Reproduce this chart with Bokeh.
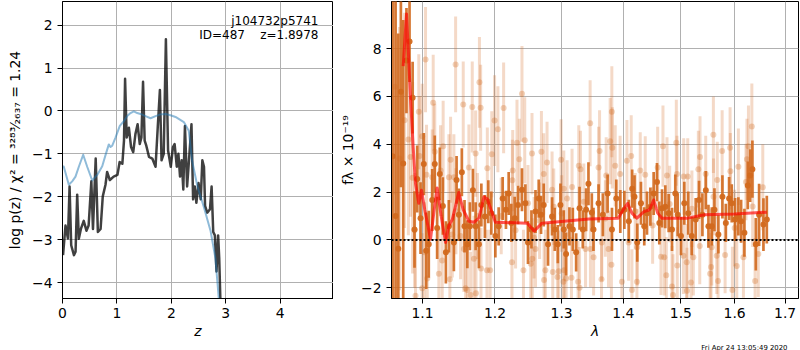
from bokeh.plotting import figure
from bokeh.layouts import row
from bokeh.models import Range1d, FixedTicker, CustomJSTickFormatter, Label, Span, Title
from bokeh.embed import file_html
from bokeh.resources import INLINE

# ---------------- left panel: log p(z) ----------------
z_chi2 = [0.01, 0.024, 0.116, 0.178, 0.239, 0.300, 0.380, 0.454, 0.546, 0.638, 0.730, 0.790,
          0.851, 0.882, 0.914, 0.974, 1.053, 1.127, 1.189, 1.250, 1.311, 1.373, 1.434, 1.526,
          1.618, 1.710, 1.801, 1.893, 1.985, 2.077, 2.23, 2.32, 2.38, 2.48, 2.60, 2.72, 2.81,
          2.87, 2.90]
logp_chi2 = [-1.28, -1.30, -1.72, -1.64, -1.53, -1.30, -1.02, -1.30, -1.62, -1.49, -1.29, -1.03,
             -0.78, -0.84, -0.81, -0.62, -0.35, -0.24, -0.12, -0.05, -0.01, -0.05, -0.07, -0.12,
             -0.17, -0.12, -0.08, -0.07, -0.10, -0.14, -0.26, -0.46, -1.15, -1.76, -2.25, -2.79, -3.43,
             -4.34, -4.90]

z_pz = [0.01, 0.055, 0.10, 0.13, 0.16, 0.21, 0.24, 0.27, 0.30, 0.34, 0.39, 0.44, 0.48, 0.53,
        0.56, 0.61, 0.65, 0.70, 0.74, 0.79, 0.82, 0.87, 0.94, 1.01, 1.05, 1.10, 1.13, 1.15,
        1.18, 1.22, 1.26, 1.30, 1.34, 1.38, 1.42, 1.45, 1.48, 1.51, 1.54, 1.59, 1.65, 1.71,
        1.75, 1.79, 1.82, 1.86, 1.90, 1.94, 1.99, 2.03, 2.06, 2.10, 2.13, 2.16, 2.19, 2.22,
        2.25, 2.29, 2.32, 2.37, 2.40, 2.43, 2.46, 2.50, 2.54, 2.57, 2.60, 2.62, 2.66, 2.71,
        2.74, 2.77, 2.80, 2.83, 2.86, 2.88, 2.90, 2.92]
logp_pz = [-3.36, -2.67, -2.97, -1.76, -3.13, -3.36, -3.28, -1.95, -2.98, -2.74, -2.56, -2.79,
           -2.67, -1.64, -2.75, -1.11, -2.82, -2.75, -1.99, -1.72, -1.42, -1.61, -1.53, -1.49,
           -1.19, -1.23, -0.69, 0.75, -0.62, -0.39, -0.84, -0.96, -0.54, -0.31, -0.77, -0.62,
           0.68, -0.69, -0.81, -1.07, -1.11, -1.30, -0.39, 0.49, -1.15, -1.00, 1.67, -0.92,
           -1.30, -0.84, -0.77, -1.30, -1.00, -1.53, -1.15, -1.83, -0.35, -1.76, -1.23, -0.31,
           -2.06, -1.76, -2.14, -1.68, -2.06, -1.15, -1.30, -2.21, -2.37, -2.29, -1.76, -2.82,
           -2.90, -3.74, -2.90, -3.43, -4.34, -4.90]

z_ticks = [0, 1, 2, 3, 4]
logp_ticks = [-4, -3, -2, -1, 0, 1, 2]

# ---------------- right panel: spectrum ----------------
lam_model = [1.0748, 1.0791, 1.0843, 1.0878, 1.0908, 1.0951, 1.0987, 1.1030, 1.1106, 1.1150,
             1.1195, 1.1250, 1.1309, 1.1350, 1.1400, 1.1489, 1.1551, 1.1630, 1.1700, 1.1771,
             1.1842, 1.1890, 1.2005, 1.2476, 1.2576, 1.2697, 1.3431, 1.3913, 1.3980, 1.4071,
             1.4144, 1.4229, 1.4355, 1.4447, 1.4518, 1.4588, 1.4664, 1.5124, 1.5429, 1.5996,
             1.6630]
flux_model = [7.27, 9.45, 5.90, 3.85, 2.35, 1.53, 2.08, 1.26, 0.03, 1.12,
              2.17, 0.98, -0.11, 0.57, 0.85, 1.98, 1.26, 0.78, 0.74, 0.91,
              1.80, 1.71, 0.74, 0.70, 0.37, 0.70, 0.87, 0.91, 1.19, 1.53,
              1.12, 0.91, 1.19, 1.26, 1.67, 1.12, 0.91, 0.91, 1.05, 1.08,
              1.16]

lam_a = [1.0612, 1.0650, 1.0685, 1.0718, 1.0748, 1.0790, 1.0830, 1.0870,
         1.0895, 1.0930, 1.0974, 1.1017, 1.1049, 1.1083, 1.1129, 1.1163, 1.1195, 1.1231,
         1.1272, 1.1313, 1.1354, 1.1422, 1.1459, 1.1491, 1.1532, 1.1569, 1.1608, 1.1644,
         1.1686, 1.1724, 1.1771, 1.1805, 1.1856, 1.1904,
         1.1947, 1.2005, 1.2053, 1.2111, 1.2159, 1.2199, 1.2238, 1.2287, 1.2336, 1.2395,
         1.2446, 1.2485, 1.2537, 1.2598, 1.2647, 1.2682, 1.2723, 1.2789, 1.2851, 1.2893,
         1.2940, 1.2981, 1.3033, 1.3069, 1.3122, 1.3175, 1.3228, 1.3282, 1.3334, 1.3387,
         1.3425, 1.3479, 1.3506, 1.3589, 1.3659, 1.3737, 1.3809, 1.3881, 1.3948, 1.4016,
         1.4091, 1.4148, 1.4188, 1.4235, 1.4298, 1.4355, 1.4402, 1.4461, 1.4518, 1.4576,
         1.4617, 1.4664, 1.4722, 1.4782, 1.4841, 1.4900, 1.4943, 1.5002, 1.5062,
         1.5134, 1.5197, 1.5270, 1.5331, 1.5393, 1.5456, 1.5505, 1.5568, 1.5617, 1.5691,
         1.5767, 1.5832, 1.5894, 1.5945, 1.6009, 1.6072, 1.6125, 1.6189, 1.6255, 1.6300,
         1.6345, 1.6412, 1.6477, 1.6563, 1.6630]
flux_a = [3.5, 1.0, -0.37, 6.2, 3.2, 7.5, 8.3, 5.95,
          0.44, 2.55, 0.91, 3.17, -0.45, -0.18, 1.67, 3.17, 0.50, 2.76,
          1.42, -0.52, 0.57, -0.11, 2.51, 1.05, 2.83, 0.57, -0.18, 0.57,
          2.08, 0.57, -0.18, 1.46, 0.98, 1.60,
          1.12, 0.16, 0.57, 1.73, 1.26, 1.94, 0.71, 0.91, 1.46, 2.10,
          1.53, -0.11, 0.44, 1.19, 1.73, 1.05, 1.46, -0.18, 0.98, 0.44,
          -0.18, 1.46, 0.44, -0.59, 0.57, 0.44, -0.52, 1.32, 0.44, 1.26,
          2.35, 1.15, 0.44, 1.53, 1.05, 1.94, 0.44, 1.73, 1.19, 1.26,
          0.78, 2.14, 1.80, -0.11, 1.53, 0.57, 1.12, 1.39, 1.94, 2.42,
          0.71, 1.32, 1.39, 1.12, 0.44, 1.94, 1.05, 0.16, 1.53,
          1.12, 0.16, 0.85, 1.67, 1.05, 2.08, 0.57, 0.57, 1.26, 0.23,
          1.80, 0.71, 1.73, 1.53, 0.85, 0.98, 0.78, 0.30, 2.28, 2.69,
          2.96, -0.18, 1.05, 0.64, 0.85]
err_a = [9.0, 9.0, 9.0, 4.0, 6.0, 2.2, 1.7, 1.5,
         1.6, 1.4, 1.5, 1.3, 1.6, 1.4, 1.3, 1.2, 1.3, 1.1,
         1.2, 1.3, 1.1, 1.2, 1.0, 1.1, 1.0, 1.1, 1.0, 1.0,
         0.9, 1.0, 1.0, 0.9, 0.9, 0.9,
         0.9, 0.9, 0.8, 0.9, 0.8, 0.9, 0.8, 0.9, 0.8, 0.9,
         0.8, 0.9, 0.8, 0.9, 0.8, 0.8, 0.9, 0.9, 0.8, 0.9,
         0.8, 0.9, 0.8, 0.9, 0.8, 0.9, 0.8, 0.9, 0.8, 0.9,
         0.9, 0.8, 0.9, 0.8, 0.9, 0.8, 0.9, 0.8, 0.9, 0.8,
         0.9, 0.8, 0.9, 0.8, 0.9, 0.8, 0.9, 0.8, 0.9, 0.8,
         0.9, 0.8, 0.9, 0.8, 0.9, 0.8, 0.9, 0.8, 0.9,
         0.9, 0.8, 0.9, 0.8, 0.9, 0.8, 0.9, 0.8, 0.9, 0.8,
         0.9, 0.8, 0.9, 0.8, 0.9, 0.8, 0.9, 1.0, 1.0, 1.1,
         1.2, 1.1, 1.3, 1.1, 1.0]

lam_b = [1.0640, 1.0700, 1.0765, 1.0815, 1.0870,
         1.1040, 1.1446, 1.1142, 1.0951, 1.1778, 1.1551, 1.1677, 1.1795, 1.0996, 1.0962,
         1.0843, 1.1163, 1.1276, 1.1377, 1.1724, 1.1630, 1.1053, 1.1129, 1.1890, 1.1354,
         1.1422, 1.0896, 1.1400, 1.1241, 1.1218, 1.1367, 1.1026, 1.1729, 1.1608, 1.1800,
         1.1885, 1.1263, 1.0996, 1.1514, 1.1560,
         1.0908, 1.1063, 1.1584, 1.1654, 1.1700, 1.2253, 1.2417, 1.2526, 1.2728, 1.2934,
         1.3038, 1.2576,
         1.2125, 1.2395, 1.1994, 1.2042, 1.2436, 1.2321, 1.1954, 1.2545, 1.2688, 1.2356,
         1.2774, 1.2991, 1.2258, 1.2723, 1.3270, 1.3297, 1.2851, 1.3033, 1.3163, 1.3085,
         1.2877, 1.2485, 1.1930, 1.2247, 1.2550, 1.2748, 1.2862, 1.2955, 1.3069, 1.3154,
         1.3259, 1.3282, 1.3028, 1.3378, 1.2598,
         1.3452, 1.3807, 1.3779, 1.3605, 1.3815, 1.3863, 1.3589, 1.3945, 1.3714, 1.4132,
         1.4286, 1.4372, 1.4681, 1.4918, 1.4588, 1.4752, 1.4930, 1.5051, 1.4060, 1.3457,
         1.3508, 1.3642, 1.3752, 1.3800, 1.3637, 1.3975, 1.4229, 1.4144, 1.4235, 1.4646,
         1.4704, 1.4740, 1.4841, 1.4935, 1.4859, 1.5046, 1.4088,
         1.5597, 1.6334, 1.5913, 1.5762, 1.5349, 1.6268, 1.6238, 1.5318, 1.6072, 1.5670,
         1.5124, 1.5918, 1.6219, 1.5454, 1.5344, 1.5226, 1.5106, 1.5567, 1.5660, 1.5818,
         1.6041, 1.6170, 1.5554, 1.5536, 1.5184, 1.5685, 1.6398, 1.5957, 1.5110, 1.6461,
         1.2090, 1.2300, 1.2660, 1.3000, 1.3350, 1.3700, 1.4200, 1.4500, 1.4800, 1.5200,
         1.5600, 1.6000, 1.6350, 1.6550, 1.1450, 1.1750]
flux_b = [6.4, 3.4, 5.0, 4.2, 2.6,
          7.54, 7.34, 5.74, 5.36, 6.59, 5.66, 5.56, 5.53, 4.33, 3.51,
          3.47, 3.69, 3.92, 3.35, 3.61, 3.03, 2.72, 2.62, 3.00, 2.62,
          2.62, 0.40, 0.23, 2.90, -1.41, -1.65, -0.52, -2.23, -2.09, -1.20,
          -1.27, -0.86, -2.02, 0.16, -0.38,
          -2.34, -1.61, -2.02, -2.30, -0.79, 2.49, -1.27, -1.00, -1.68, -1.55,
          -1.27, 0.09,
          5.52, 6.11, 4.99, 4.63, 4.17, 4.06, 3.58, 3.61, 3.69, 3.37,
          3.24, 3.35, 2.90, 2.76, 3.10, 2.96, 2.10, 2.14, 2.21, 1.73,
          1.39, 1.53, -1.27, -0.93, -0.79, -1.27, -1.34, -1.31, -1.61, -1.58,
          -1.75, -2.00, -1.75, -0.38, -0.38,
          4.88, 5.36, 4.13, 3.72, 3.85, 3.10, 3.03, 2.76, 2.69, 3.51,
          2.90, 2.73, 3.92, 4.06, 3.03, 2.69, 2.76, 2.65, 3.31, -0.38,
          -0.72, -0.11, -0.38, -1.04, -1.64, -1.75, -1.75, -2.09, -0.31, -0.70,
          -0.72, -1.48, -1.95, -1.07, -2.30, -0.66, -0.11,
          4.40, 4.74, 3.85, 3.72, 3.47, 3.92, 3.37, 2.96, 3.06, 2.51,
          2.65, 2.87, 2.42, 2.76, -0.25, -0.72, -0.93, -0.31, -0.66, -0.63,
          -1.09, -0.72, -1.13, -1.41, -1.78, -1.72, -1.72, -2.09, -2.13, -0.59,
          1.00, 0.40, 0.80, 1.10, 1.60, 0.90, 1.20, 0.60, 1.50, 1.30,
          1.80, 0.50, 1.40, 2.20, 1.20, 1.00]
err_b = [4.5, 5.5, 4.5, 4.0, 4.0,
         2.2, 2.0, 2.0, 2.4, 1.9, 1.8, 1.9, 1.8, 2.2, 2.5,
         2.5, 2.0, 1.9, 1.8, 1.8, 1.8, 2.1, 2.0, 1.7, 1.8,
         1.8, 2.4, 1.8, 1.9, 1.9, 1.8, 2.1, 1.8, 1.8, 1.7,
         1.7, 1.9, 2.3, 1.8, 1.8,
         2.4, 2.1, 1.8, 1.8, 1.8, 1.7, 1.7, 1.7, 1.7, 1.7,
         1.7, 1.7,
         1.9, 2.0, 1.9, 1.8, 1.8, 1.8, 1.8, 1.7, 1.7, 1.7,
         1.7, 1.7, 1.7, 1.7, 1.7, 1.6, 1.6, 1.6, 1.6, 1.6,
         1.6, 1.6, 1.7, 1.7, 1.7, 1.7, 1.7, 1.7, 1.7, 1.7,
         1.7, 1.7, 1.7, 1.6, 1.6,
         1.8, 1.9, 1.8, 1.7, 1.7, 1.7, 1.7, 1.6, 1.6, 1.7,
         1.6, 1.6, 1.7, 1.8, 1.7, 1.6, 1.6, 1.6, 1.7, 1.6,
         1.6, 1.6, 1.6, 1.6, 1.7, 1.7, 1.7, 1.7, 1.6, 1.6,
         1.6, 1.6, 1.7, 1.6, 1.7, 1.6, 1.6,
         1.6, 1.8, 1.7, 1.7, 1.7, 1.7, 1.7, 1.6, 1.6, 1.6,
         1.6, 1.6, 1.6, 1.6, 1.6, 1.6, 1.6, 1.6, 1.6, 1.6,
         1.7, 1.7, 1.7, 1.7, 1.7, 1.7, 1.8, 1.8, 1.8, 1.8,
         1.6, 1.6, 1.6, 1.6, 1.6, 1.6, 1.6, 1.6, 1.6, 1.6,
         1.6, 1.6, 1.7, 1.8, 1.8, 1.8]

lam_ticks = [1.1, 1.2, 1.3, 1.4, 1.5, 1.6, 1.7]
flux_ticks = [-2, 0, 2, 4, 6, 8]

title_line1 = "j104732p5741"
title_line2 = "ID=487\u00a0\u00a0\u00a0\u00a0z=1.8978"
timestamp = "Fri Apr 24 13:05:49 2020"
ylabel_left = "log p(z) / \u03c7\u00b2 = \u00b3\u00b2\u2078\u00b3\u2044\u2082\u2086\u2083\u2087 = 1.24"
ylabel_right = "f\u03bb \u00d7 10\u207b\u00b9\u2079"

FONT = "DejaVu Sans"
FS = "13.9px"
ORANGE = "#d2691e"
FRAME_H = 297
BOTTOM = 52


def int_fmt():
    return CustomJSTickFormatter(code="return (tick < 0 ? '\\u2212' : '') + Math.abs(tick).toFixed(0);")


def style(p):
    p.outline_line_color = "black"
    p.outline_line_width = 1
    p.outline_line_alpha = 1
    p.background_fill_color = "white"
    p.border_fill_color = "white"
    for ax in p.axis:
        ax.axis_line_color = "black"
        ax.axis_line_width = 1
        ax.major_tick_line_color = "black"
        ax.major_tick_line_width = 1
        ax.major_tick_out = 5
        ax.major_tick_in = 0
        ax.minor_tick_line_color = None
        ax.major_label_text_font = FONT
        ax.major_label_text_font_size = FS
        ax.major_label_text_color = "black"
        ax.major_label_standoff = 5
        ax.axis_label_text_font = FONT
        ax.axis_label_text_font_size = FS
        ax.axis_label_text_color = "black"
    p.grid.grid_line_color = "#b0b0b0"
    p.grid.grid_line_width = 1
    p.grid.grid_line_alpha = 1


# ---------------- left figure ----------------
p1 = figure(frame_width=271, frame_height=FRAME_H, min_border_left=62, min_border_right=0,
            min_border_top=1, min_border_bottom=BOTTOM,
            x_range=Range1d(0, 4.98), y_range=Range1d(-4.37, 2.55),
            output_backend="svg", toolbar_location=None)
style(p1)
p1.xaxis.ticker = FixedTicker(ticks=z_ticks)
p1.yaxis.ticker = FixedTicker(ticks=logp_ticks)
p1.xgrid.ticker = FixedTicker(ticks=z_ticks)
p1.ygrid.ticker = FixedTicker(ticks=logp_ticks)
p1.xaxis.formatter = int_fmt()
p1.yaxis.formatter = int_fmt()
p1.xaxis.axis_label = "z"
p1.xaxis.axis_label_text_font_style = "italic"
p1.xaxis.major_label_standoff = 4
p1.xaxis.axis_label_standoff = 2
p1.yaxis.axis_label = ylabel_left
p1.yaxis.axis_label_text_font_style = "normal"
p1.yaxis.axis_label_standoff = 6

p1.line(z_pz, logp_pz, line_color="black", line_alpha=0.75, line_width=2.5, line_join="round")
p1.line(z_chi2, logp_chi2, line_color="#1f77b4", line_alpha=0.5, line_width=2, line_join="round")

p1.add_layout(Label(x=256, y=FRAME_H - 19, x_units="screen", y_units="screen", text=title_line1,
                    text_align="right", text_baseline="middle", text_font=FONT,
                    text_font_size="12px", text_color="black"))
p1.add_layout(Label(x=256, y=FRAME_H - 33, x_units="screen", y_units="screen", text=title_line2,
                    text_align="right", text_baseline="middle", text_font=FONT,
                    text_font_size="12px", text_color="black"))

# ---------------- right figure ----------------
p2 = figure(frame_width=407, frame_height=FRAME_H, min_border_left=58, min_border_right=1,
            min_border_top=1, min_border_bottom=BOTTOM, x_axis_type="log",
            x_range=Range1d(1.0598, 1.7275), y_range=Range1d(-2.45, 9.97),
            output_backend="svg", toolbar_location=None)
style(p2)
p2.xaxis.ticker = FixedTicker(ticks=lam_ticks)
p2.xgrid.ticker = FixedTicker(ticks=lam_ticks)
p2.yaxis.ticker = FixedTicker(ticks=flux_ticks)
p2.ygrid.ticker = FixedTicker(ticks=flux_ticks)
p2.xaxis.formatter = CustomJSTickFormatter(code="return tick.toFixed(1);")
p2.yaxis.formatter = int_fmt()
p2.xaxis.axis_label = "\u03bb"
p2.xaxis.axis_label_text_font_style = "italic"
p2.xaxis.major_label_standoff = 4
p2.xaxis.axis_label_standoff = 2
p2.yaxis.axis_label = ylabel_right
p2.yaxis.axis_label_text_font_style = "normal"
p2.yaxis.axis_label_standoff = 2

b_lo = [f - e for f, e in zip(flux_b, err_b)]
b_hi = [f + e for f, e in zip(flux_b, err_b)]
a_lo = [f - e for f, e in zip(flux_a, err_a)]
a_hi = [f + e for f, e in zip(flux_a, err_a)]

p2.segment(lam_b, b_lo, lam_b, b_hi, line_color=ORANGE, line_alpha=0.25, line_width=3)
p2.scatter(lam_b, flux_b, size=6, fill_color=ORANGE, fill_alpha=0.3, line_color=None)
p2.segment(lam_a, a_lo, lam_a, a_hi, line_color=ORANGE, line_alpha=0.9, line_width=2.7)
p2.scatter(lam_a, flux_a, size=6, fill_color=ORANGE, fill_alpha=0.95, line_color=None)
p2.line(lam_model, flux_model, line_color="red", line_alpha=0.65, line_width=3, line_join="round")
p2.add_layout(Span(location=0, dimension="width", line_color="black", line_width=2, line_dash="2 2"))

p2.add_layout(Title(text=timestamp, align="right", offset=11, standoff=0,
                    text_font=FONT, text_font_size="6.9px", text_font_style="normal",
                    text_color="black"), "below")

layout = row(p1, p2)
open("out.html", "w").write(file_html(layout, INLINE))
